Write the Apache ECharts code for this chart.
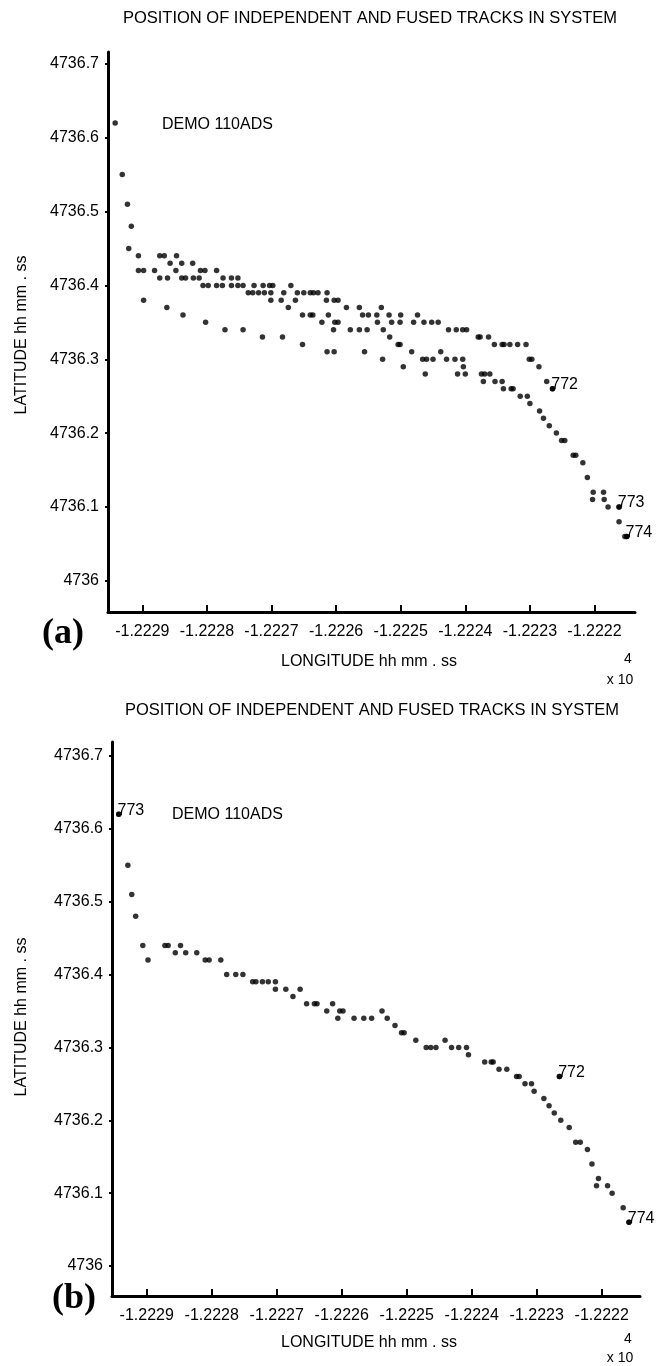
<!DOCTYPE html>
<html>
<head>
<meta charset="utf-8">
<script src="https://cdn.jsdelivr.net/npm/echarts@6/dist/echarts.min.js"></script>
<style>
html,body{margin:0;padding:0;background:#fff;}
#chart{width:657px;height:1366px;}
</style>
</head>
<body>
<div id="chart"></div>
<script>
// ---- tick labels ----
var lonTicks = [-1.2229, -1.2228, -1.2227, -1.2226, -1.2225, -1.2224, -1.2223, -1.2222];
var latTicks = [4736, 4736.1, 4736.2, 4736.3, 4736.4, 4736.5, 4736.6, 4736.7];

// ---- panel (a): independent and fused tracks [longitude (x10^4), latitude] ----
var pointsA = [
  [-1.222942,4736.62],[-1.222931,4736.55],[-1.222923,4736.51],[-1.222917,4736.48],[-1.222921,4736.45],
  [-1.222906,4736.44],[-1.222873,4736.44],[-1.222866,4736.44],[-1.222847,4736.44],
  [-1.222857,4736.43],[-1.222839,4736.43],[-1.222822,4736.43],
  [-1.222906,4736.42],[-1.222898,4736.42],[-1.222881,4736.42],[-1.222848,4736.42],[-1.222810,4736.42],[-1.222803,4736.42],[-1.222785,4736.42],
  [-1.222873,4736.41],[-1.222861,4736.41],[-1.222839,4736.41],[-1.222833,4736.41],[-1.222821,4736.41],[-1.222812,4736.41],[-1.222775,4736.41],[-1.222762,4736.41],[-1.222752,4736.41],
  [-1.222806,4736.40],[-1.222798,4736.40],[-1.222785,4736.40],[-1.222776,4736.40],[-1.222762,4736.40],[-1.222752,4736.40],[-1.222744,4736.40],[-1.222727,4736.40],[-1.222713,4736.40],[-1.222703,4736.40],[-1.222698,4736.40],[-1.222670,4736.40],
  [-1.222736,4736.39],[-1.222729,4736.39],[-1.222720,4736.39],[-1.222711,4736.39],[-1.222701,4736.39],[-1.222681,4736.39],[-1.222660,4736.39],[-1.222650,4736.39],[-1.222640,4736.39],[-1.222635,4736.39],[-1.222628,4736.39],[-1.222614,4736.39],
  [-1.222898,4736.38],[-1.222701,4736.38],[-1.222685,4736.38],[-1.222663,4736.38],[-1.222615,4736.38],[-1.222603,4736.38],[-1.222597,4736.38],
  [-1.222862,4736.37],[-1.222674,4736.37],[-1.222584,4736.37],[-1.222564,4736.37],[-1.222530,4736.37],
  [-1.222837,4736.36],[-1.222652,4736.36],[-1.222640,4736.36],[-1.222636,4736.36],[-1.222612,4736.36],[-1.222559,4736.36],[-1.222550,4736.36],[-1.222537,4736.36],[-1.222518,4736.36],[-1.222500,4736.36],[-1.222474,4736.36],
  [-1.222802,4736.35],[-1.222622,4736.35],[-1.222602,4736.35],[-1.222597,4736.35],[-1.222536,4736.35],[-1.222514,4736.35],[-1.222501,4736.35],[-1.222480,4736.35],[-1.222464,4736.35],[-1.222452,4736.35],[-1.222442,4736.35],
  [-1.222772,4736.34],[-1.222744,4736.34],[-1.222604,4736.34],[-1.222578,4736.34],[-1.222564,4736.34],[-1.222552,4736.34],[-1.222527,4736.34],[-1.222426,4736.34],[-1.222414,4736.34],[-1.222404,4736.34],[-1.222398,4736.34],
  [-1.222714,4736.33],[-1.222683,4736.33],[-1.222517,4736.33],[-1.222380,4736.33],[-1.222377,4736.33],[-1.222364,4736.33],
  [-1.222652,4736.32],[-1.222504,4736.32],[-1.222501,4736.32],[-1.222355,4736.32],[-1.222343,4736.32],[-1.222340,4736.32],[-1.222331,4736.32],[-1.222319,4736.32],[-1.222306,4736.32],
  [-1.222614,4736.31],[-1.222603,4736.31],[-1.222556,4736.31],[-1.222483,4736.31],[-1.222438,4736.31],
  [-1.222528,4736.30],[-1.222466,4736.30],[-1.222460,4736.30],[-1.222450,4736.30],[-1.222429,4736.30],[-1.222416,4736.30],[-1.222404,4736.30],[-1.222301,4736.30],[-1.222297,4736.30],
  [-1.222496,4736.29],[-1.222403,4736.29],[-1.222286,4736.29],
  [-1.222462,4736.28],[-1.222412,4736.28],[-1.222400,4736.28],[-1.222375,4736.28],[-1.222370,4736.28],[-1.222362,4736.28],
  [-1.222372,4736.27],[-1.222354,4736.27],[-1.222343,4736.27],[-1.222274,4736.27],
  [-1.222341,4736.26],[-1.222329,4736.26],[-1.222326,4736.26],[-1.222265,4736.26],
  [-1.222315,4736.25],[-1.222304,4736.25],
  [-1.222300,4736.24],[-1.222285,4736.23],[-1.222279,4736.22],[-1.222270,4736.21],[-1.222259,4736.20],
  [-1.222251,4736.19],[-1.222246,4736.19],
  [-1.222233,4736.17],[-1.222229,4736.17],[-1.222218,4736.16],[-1.222211,4736.14],
  [-1.222202,4736.12],[-1.222186,4736.12],[-1.222203,4736.11],[-1.222185,4736.11],
  [-1.222179,4736.10],[-1.222162,4736.10],[-1.222162,4736.08],
  [-1.222153,4736.06],[-1.222150,4736.06]
];
var trackIdsA = ['772', '773', '774'];
var trackEndsA = [[-1.222265, 4736.26], [-1.222162, 4736.10], [-1.222150, 4736.06]];

// ---- panel (b): fused track ----
var pointsB = [
  [-1.222943,4736.62],[-1.222929,4736.55],[-1.222923,4736.51],[-1.222917,4736.48],
  [-1.222906,4736.44],[-1.222898,4736.42],
  [-1.222872,4736.44],[-1.222867,4736.44],[-1.222856,4736.43],[-1.222848,4736.44],[-1.222840,4736.43],[-1.222823,4736.43],
  [-1.222810,4736.42],[-1.222804,4736.42],[-1.222786,4736.42],
  [-1.222777,4736.40],[-1.222763,4736.40],[-1.222752,4736.40],
  [-1.222737,4736.39],[-1.222732,4736.39],[-1.222722,4736.39],[-1.222713,4736.39],[-1.222702,4736.39],
  [-1.222702,4736.38],[-1.222686,4736.38],[-1.222675,4736.37],[-1.222664,4736.38],
  [-1.222654,4736.36],[-1.222642,4736.36],[-1.222638,4736.36],[-1.222623,4736.35],[-1.222614,4736.36],
  [-1.222606,4736.34],[-1.222603,4736.35],[-1.222598,4736.35],
  [-1.222581,4736.34],[-1.222566,4736.34],[-1.222554,4736.34],[-1.222538,4736.35],[-1.222530,4736.34],
  [-1.222518,4736.33],[-1.222508,4736.32],[-1.222504,4736.32],[-1.222486,4736.31],
  [-1.222470,4736.30],[-1.222463,4736.30],[-1.222455,4736.30],[-1.222441,4736.31],
  [-1.222431,4736.30],[-1.222420,4736.30],[-1.222408,4736.30],[-1.222405,4736.29],
  [-1.222380,4736.28],[-1.222370,4736.28],[-1.222367,4736.28],
  [-1.222358,4736.27],[-1.222346,4736.27],[-1.222331,4736.26],[-1.222327,4736.26],
  [-1.222318,4736.25],[-1.222308,4736.25],[-1.222304,4736.24],[-1.222289,4736.23],
  [-1.222281,4736.22],[-1.222273,4736.21],[-1.222263,4736.20],[-1.222250,4736.19],
  [-1.222240,4736.17],[-1.222233,4736.17],[-1.222222,4736.16],[-1.222215,4736.14],
  [-1.222205,4736.12],[-1.222208,4736.11],[-1.222191,4736.11],[-1.222184,4736.10],
  [-1.222167,4736.08],[-1.222158,4736.06],
  [-1.222265,4736.26]
];
var trackIdsB = ['773', '772', '774'];
var trackEndsB = [[-1.222943, 4736.62], [-1.222265, 4736.26], [-1.222158, 4736.06]];

var titleText = 'POSITION OF INDEPENDENT AND FUSED TRACKS IN SYSTEM';
var xName = 'LONGITUDE hh mm . ss';
var yName = 'LATITUDE hh mm . ss';
var runText = 'DEMO 110ADS';

var SANS = '"Liberation Sans", Arial, sans-serif';
var SERIF = '"Liberation Serif", "Times New Roman", serif';

function labelPoints(ids, ends) {
  return ids.map(function (id, i) { return { name: id, value: ends[i] }; });
}

function xAxisFor(gi, mn, mx) {
  return {
    type: 'value', gridIndex: gi, min: mn, max: mx,
    axisLine: { show: true, onZero: false, lineStyle: { color: '#000', width: 3 } },
    axisTick: { show: true, inside: true, length: 7, customValues: lonTicks, lineStyle: { color: '#000', width: 2 } },
    axisLabel: { show: true, customValues: lonTicks, color: '#000', fontSize: 16, fontFamily: SANS, margin: 12,
      formatter: function (v) { return v.toFixed(4); } },
    splitLine: { show: false }
  };
}
function yAxisFor(gi, mn, mx) {
  return {
    type: 'value', gridIndex: gi, min: mn, max: mx,
    axisLine: { show: true, onZero: false, lineStyle: { color: '#000', width: 3 } },
    axisTick: { show: true, inside: false, length: 3, customValues: latTicks, lineStyle: { color: '#000', width: 2 } },
    axisLabel: { show: true, customValues: latTicks, color: '#000', fontSize: 16, fontFamily: SANS, margin: 9,
      formatter: function (v) { return String(Math.round(v * 10) / 10); } },
    splitLine: { show: false }
  };
}
function dots(xi, data) {
  return { type: 'scatter', xAxisIndex: xi, yAxisIndex: xi, data: data, symbol: 'circle', symbolSize: 5.5,
    itemStyle: { color: '#000' }, silent: true };
}
function tags(xi, data) {
  return { type: 'scatter', xAxisIndex: xi, yAxisIndex: xi, data: data, symbol: 'circle', symbolSize: 5.5,
    itemStyle: { color: '#000' }, silent: true,
    label: { show: true, position: 'right', distance: -4, offset: [0, -4], color: '#000', fontSize: 16, fontFamily: SANS,
      textBorderWidth: 0, opacity: 1,
      formatter: function (p) { return p.name; } } };
}
function txt(x, y, s, size, opts) {
  opts = opts || {};
  return {
    type: 'text', x: x, y: y, rotation: opts.rotation || 0, silent: true,
    style: { text: s, x: 0, y: 0, fill: '#000',
      font: (opts.weight || 'normal') + ' ' + size + 'px ' + (opts.family || SANS),
      align: opts.align || 'center', textAlign: opts.align || 'center',
      verticalAlign: 'middle', textVerticalAlign: 'middle' }
  };
}

var chart = echarts.init(document.getElementById('chart'), null, { renderer: 'canvas' });
chart.setOption({
  animation: false,
  backgroundColor: '#fff',
  grid: [
    { left: 108, top: 52, width: 527, height: 560, outerBoundsMode: 'none', containLabel: false },
    { left: 112, top: 742, width: 528, height: 554, outerBoundsMode: 'none', containLabel: false }
  ],
  xAxis: [ xAxisFor(0, -1.2229531, -1.2221373), xAxisFor(1, -1.2229534, -1.2221411) ],
  yAxis: [ yAxisFor(0, 4735.9578, 4736.716), yAxisFor(1, 4735.9588, 4736.7192) ],
  series: [
    dots(0, pointsA), tags(0, labelPoints(trackIdsA, trackEndsA)),
    dots(1, pointsB), tags(1, labelPoints(trackIdsB, trackEndsB))
  ],
  graphic: [
    txt(370, 18, titleText, 16.5),
    txt(372, 710, titleText, 16.5),
    txt(162, 125, runText, 16, { align: 'left' }),
    txt(172, 815, runText, 16, { align: 'left' }),
    txt(22, 335, yName, 16, { rotation: Math.PI / 2 }),
    txt(22, 1017, yName, 16, { rotation: Math.PI / 2 }),
    txt(369, 662, xName, 16),
    txt(369, 1343, xName, 16),
    txt(628, 659, '4', 14),
    txt(620, 680, 'x 10', 14),
    txt(628, 1339, '4', 14),
    txt(620, 1358, 'x 10', 14),
    txt(63, 634, '(a)', 36, { weight: 'bold', family: SERIF }),
    txt(74, 1299, '(b)', 36, { weight: 'bold', family: SERIF })
  ]
});
</script>
</body>
</html>
